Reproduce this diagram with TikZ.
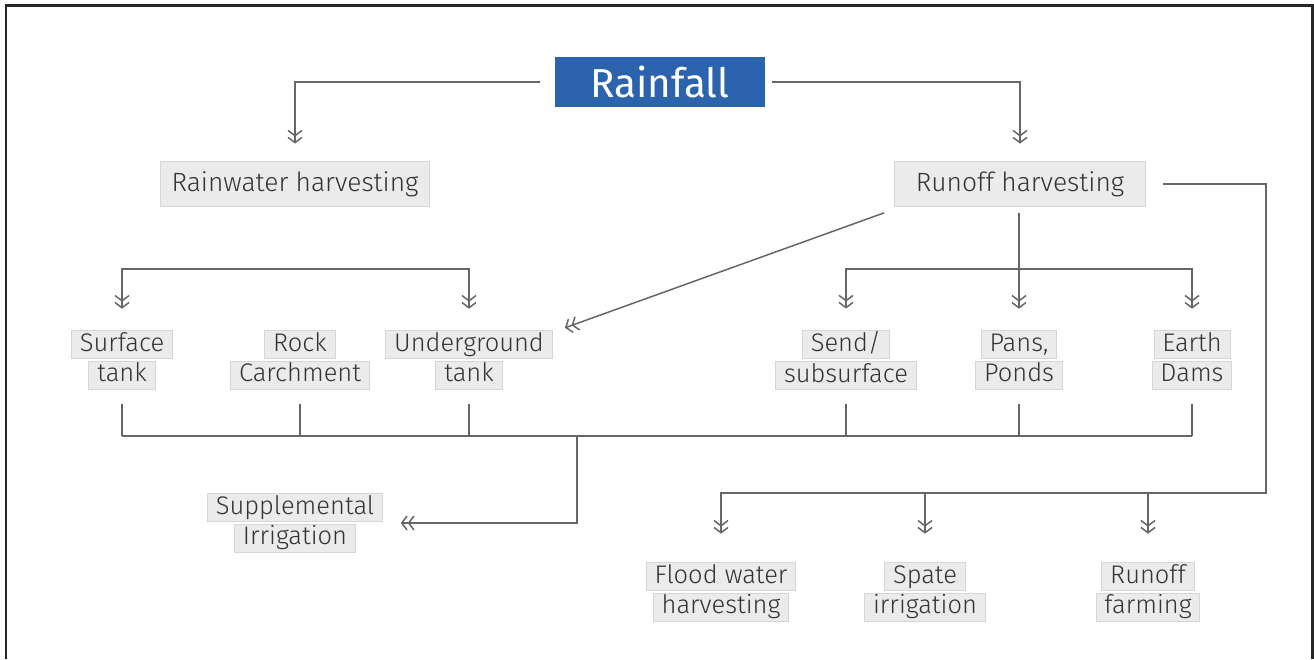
\documentclass[tikz,border=0pt]{standalone}
\usepackage{fontspec}
\setmainfont{Fira Sans Light}
\newfontfamily\titlefont{Fira Sans}
\usepackage{tikz}
\usetikzlibrary{arrows.meta}

\definecolor{rainblue}{HTML}{2B63AE}
\definecolor{boxfill}{HTML}{EBEBEB}
\definecolor{boxline}{HTML}{D6D6D6}
\definecolor{wire}{HTML}{666666}
\definecolor{ink}{HTML}{333333}

\setlength{\fboxsep}{0pt}
\setlength{\fboxrule}{0.5pt}
\newcommand{\tagline}[1]{\fcolorbox{boxline}{boxfill}{\rule[-4pt]{0pt}{15.5pt}\hspace{4.5pt}#1\hspace{4.5pt}}}

\tikzset{
  line/.style={draw=wire,line width=0.85pt},
  arr/.style={line,-{Straight Barb[length=3pt,width=8pt]Straight Barb[length=3pt,width=8pt]}},
  title/.style={fill=rainblue,text=white,minimum width=4.22cm,minimum height=1cm,font=\titlefont\fontsize{23}{27}\selectfont},
  head/.style={draw=boxline,fill=boxfill,text=ink,minimum height=0.9cm,inner xsep=5pt,font=\fontsize{15}{18}\selectfont},
  tag/.style={text=ink,inner sep=0pt,align=center,font=\fontsize{14.5}{17.5}\selectfont}
}

\begin{document}
\begin{tikzpicture}[x=0.02cm,y=-0.02cm]
\useasboundingbox (0,0) rectangle (1314,659);
\draw[line width=1.7pt,black!85] (6,659) -- (6,5.5) -- (1312,5.5) -- (1312,659);

% top levels
\node[title] (rain) at (660,82) {Rainfall};
\node[head,minimum width=5.38cm] (rwh) at (295,184) {Rainwater harvesting};
\node[head,minimum width=5.02cm] (roh) at (1020,184) {Runoff harvesting};

% storage and runoff structures
\node[tag] (surf) at (122,360) {\tagline{Surface}\\\tagline{tank}};
\node[tag] (rock) at (300,360) {\tagline{Rock}\\\tagline{Carchment}};
\node[tag] (under) at (469,360) {\tagline{Underground}\\\tagline{tank}};
\node[tag] (send) at (846,360) {\tagline{Send/}\\\tagline{subsurface}};
\node[tag] (pans) at (1019,360) {\tagline{Pans,}\\\tagline{Ponds}};
\node[tag] (earth) at (1192,360) {\tagline{Earth}\\\tagline{Dams}};

% uses
\node[tag] (supp) at (295,523) {\tagline{Supplemental}\\\tagline{Irrigation}};
\node[tag] (flood) at (721,592) {\tagline{Flood water}\\\tagline{harvesting}};
\node[tag] (spate) at (925,592) {\tagline{Spate}\\\tagline{irrigation}};
\node[tag] (farm) at (1148,592) {\tagline{Runoff}\\\tagline{farming}};

\coordinate (lb) at (295,269);
\coordinate (rb) at (1019,269);
\coordinate (bus) at (577,436);
\coordinate (rr) at (1266,493);

\draw[arr,shorten <=8pt,shorten >=10pt] (rain.west) -| (rwh.north);
\draw[arr,shorten <=3.5pt,shorten >=10pt] (rain.east) -| (roh.north);

\draw[arr] (lb) -| ([yshift=12pt]surf.north);
\draw[arr] (lb) -| ([yshift=12pt]under.north);

\draw[arr,shorten <=3.5pt] (rb |- roh.south) -- ([yshift=12pt]pans.north);
\draw[arr] (rb) -| ([yshift=12pt]send.north);
\draw[arr] (rb) -| ([yshift=12pt]earth.north);
\draw[arr] ([shift={(-10,6)}]roh.south west) -- ([shift={(12,-2)}]under.north east);

\draw[arr,shorten <=9.5pt] (roh.east) -| (rr) -| ([yshift=16pt]flood.north);
\draw[arr] (spate.north |- rr) -- ([yshift=16pt]spate.north);
\draw[arr] (farm.north |- rr) -- ([yshift=16pt]farm.north);

% collecting line
\foreach \n in {surf,rock,under,send,pans,earth}
  \draw[line] ([yshift=-8pt]\n.south) -- (\n.south |- bus);
\draw[line] (surf.south |- bus) -- (earth.south |- bus);
\draw[arr,shorten >=10pt] (bus) |- (supp.east);
\end{tikzpicture}
\end{document}
